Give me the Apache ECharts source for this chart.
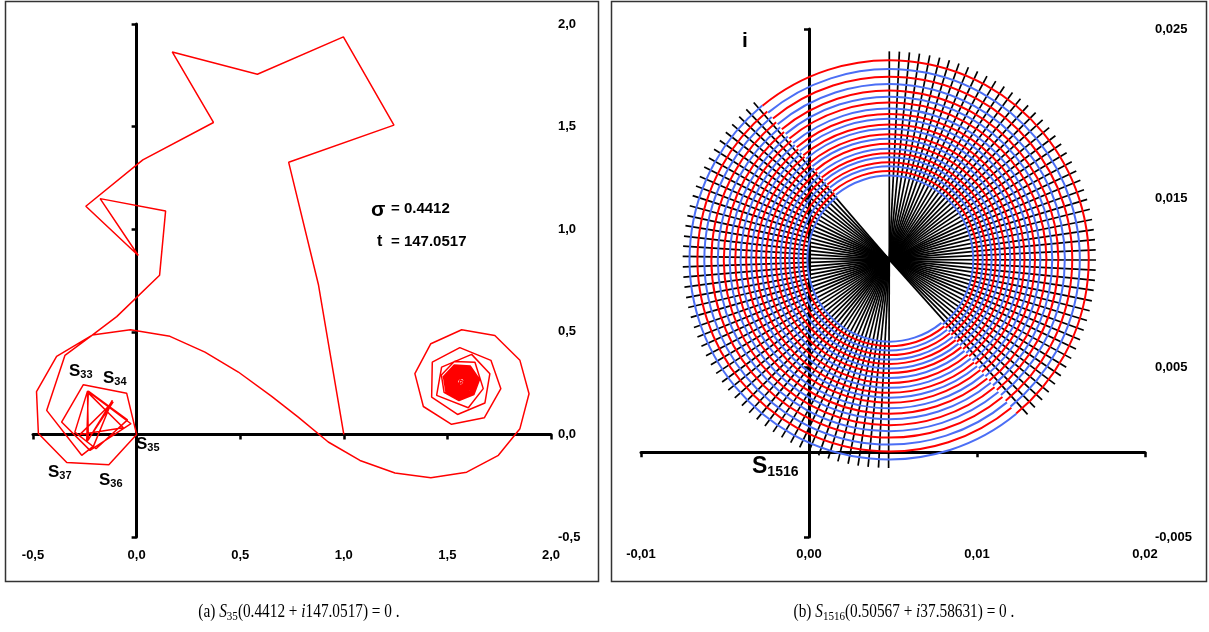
<!DOCTYPE html>
<html><head><meta charset="utf-8">
<script src="https://cdn.jsdelivr.net/npm/echarts@6/dist/echarts.min.js"></script>
<style>html,body{margin:0;padding:0;background:#fff}#c{width:1209px;height:632px}</style>
</head><body><div id="c"></div>
<script>
// ================= DATA : panel (a) =================
const xTickValsA = [-0.5, 0, 0.5, 1, 1.5, 2];
const xTickLabelsA = ['-0,5', '0,0', '0,5', '1,0', '1,5', '2,0'];
const yTickValsA = [-0.5, 0, 0.5, 1, 1.5, 2];
const yTickLabelsA = ['-0,5', '0,0', '0,5', '1,0', '1,5', '2,0'];

const pathUpper = [[1.000,0.000],[0.878,0.728],[0.734,1.326],[1.242,1.507],[0.998,1.937],[0.583,1.755],[0.172,1.864],[0.371,1.520],[0.030,1.338],[-0.245,1.112],[0.008,0.872],[-0.176,1.149],[0.140,1.089],[0.111,0.776],[-0.096,0.574],[-0.214,0.484]];
const pathLowerLeft = [[-0.386,0.380],[-0.483,0.208],[-0.474,0.004],[-0.337,-0.137],[-0.134,-0.148],[0.000,0.000],[-0.048,0.201],[-0.257,0.242],[-0.362,0.060],[-0.225,-0.078],[-0.027,0.052],[-0.237,0.211],[-0.298,0.011],[-0.196,-0.070],[-0.044,0.071],[-0.233,0.211],[-0.241,-0.037],[-0.113,0.159],[-0.273,0.000],[-0.064,0.032],[-0.237,0.206],[-0.233,-0.026],[-0.117,0.166],[-0.208,-0.057],[-0.265,-0.102],[-0.434,0.117],[-0.346,0.385],[-0.214,0.484]];
const pathCurve = [[-0.030,0.510],[0.161,0.478],[0.330,0.401],[0.491,0.304],[0.652,0.185],[0.780,0.084],[0.925,-0.037],[1.078,-0.127],[1.247,-0.188],[1.420,-0.211],[1.593,-0.184],[1.746,-0.102],[1.850,0.028],[1.894,0.198],[1.850,0.361],[1.729,0.482],[1.569,0.510]];
const pathSpiral = [[1.420,0.442],[1.343,0.296],[1.384,0.136],[1.520,0.049],[1.678,0.081],[1.758,0.223],[1.710,0.361],[1.560,0.423],[1.427,0.352],[1.424,0.182],[1.549,0.097],[1.681,0.153],[1.705,0.296],[1.617,0.390],[1.472,0.328],[1.448,0.190],[1.601,0.130],[1.673,0.223],[1.633,0.352],[1.533,0.355],[1.471,0.289],[1.484,0.205],[1.556,0.165],[1.628,0.194]];
const pathCore = [
[1.655,0.268],[1.611,0.333],[1.533,0.338],[1.481,0.282],[1.493,0.207],[1.558,0.169],[1.627,0.197],
[1.648,0.267],[1.607,0.326],[1.536,0.332],[1.488,0.280],[1.498,0.211],[1.558,0.176],[1.622,0.201],
[1.641,0.266],[1.604,0.320],[1.538,0.325],[1.494,0.277],[1.504,0.215],[1.559,0.183],[1.617,0.206],
[1.634,0.265],[1.600,0.314],[1.541,0.319],[1.501,0.275],[1.510,0.218],[1.559,0.190],[1.612,0.211],
[1.627,0.264],[1.597,0.308],[1.543,0.312],[1.508,0.273],[1.516,0.222],[1.560,0.197],[1.606,0.216],
[1.620,0.263],[1.593,0.302],[1.546,0.305],[1.514,0.271],[1.522,0.226],[1.561,0.204],[1.601,0.221],
[1.614,0.262],[1.589,0.296],[1.548,0.299],[1.521,0.269],[1.528,0.230],[1.561,0.211],[1.596,0.225],
[1.607,0.261],[1.586,0.290],[1.551,0.292],[1.528,0.267],[1.533,0.234],[1.562,0.218],[1.591,0.230],
[1.600,0.260],[1.582,0.284],[1.553,0.286],[1.534,0.265],[1.539,0.238],[1.562,0.225],[1.586,0.235],
[1.593,0.259],[1.579,0.278],[1.556,0.279],[1.541,0.263],[1.545,0.242],[1.563,0.232],[1.581,0.240],
[1.586,0.258],[1.575,0.272],[1.558,0.273],[1.548,0.260],[1.551,0.246],[1.564,0.239],[1.576,0.245],
[1.579,0.257],[1.572,0.266],[1.561,0.266],[1.554,0.258],[1.557,0.249],[1.564,0.246],[1.571,0.250],
[1.566,0.255]];
const sigmaText = '= 0.4412';
const tText = '= 147.0517';

// ================= DATA : panel (b) =================
const xTickValsB = [-0.01, 0, 0.01, 0.02];
const xTickLabelsB = ['-0,01', '0,00', '0,01', '0,02'];
const yTickValsB = [-0.005, 0.005, 0.015, 0.025];
const yTickLabelsB = ['-0,005', '0,005', '0,015', '0,025'];
const spiralCenter = [0.00478, 0.01138];
const spokeLength = 0.0123;
const splitAngle = 129.5; // degrees, diameter where half-arcs meet
const rightFanAngles = [90,87.2,84.4,81.6,78.7,75.9,73.1,70.3,67.5,64.7,61.8,59.0,56.2,53.4,50.6,47.8,44.9,42.1,39.3,36.5,33.7,30.9,28.0,25.2,22.4,19.6,16.8,14.0,11.1,8.3,5.5,2.7,-0.1,-2.9,-5.7,-8.5,-11.4,-14.2,-17.0,-19.8,-22.6,-25.4,-28.3,-31.1,-33.9,-36.7,-39.5,-42.3,-45.2,-48.0];
const leftFanAngles = [131,133.8,136.6,139.5,142.3,145.1,148.0,150.8,153.6,156.5,159.3,162.1,165.0,167.8,170.6,173.5,176.3,179.1,182.0,184.8,187.6,190.5,193.3,196.1,199.0,201.8,204.6,207.5,210.3,213.1,216.0,218.8,221.6,224.5,227.3,230.1,233.0,235.8,238.6,241.5,244.3,247.1,250.0,252.8,255.6,258.5,261.3,264.1,267.0,269.8];
const rightArcRadii = [0.01187,0.01134,0.01089,0.01045,0.01006,0.00970,0.00935,0.00899,0.00867,0.00838,0.00805,0.00779,0.00746,0.00720,0.00690,0.00660,0.00633,0.00609,0.00580,0.00556,0.00527,0.00500];
const leftArcRadii = [0.01189,0.01142,0.01101,0.01059,0.01021,0.00985,0.00950,0.00917,0.00885,0.00852,0.00822,0.00793,0.00763,0.00734,0.00704,0.00675,0.00648,0.00621,0.00595,0.00568,0.00541,0.00515,0.00488];

// ================= STYLE =================
const RED = '#ff0000', BLUE = '#4b6ef5', INK = '#000';
const SANS = 'Liberation Sans', SERIF = 'Liberation Serif';

function lab(vals, labels, v) {
  const i = vals.findIndex(t => Math.abs(t - v) < 1e-9);
  return i < 0 ? '' : labels[i];
}
function labelAxis(dim, gridIndex, min, max, interval, vals, labels, margin) {
  return {
    type: 'value', gridIndex, position: dim === 'x' ? 'bottom' : 'right', min, max, interval,
    axisLine: {show: false, onZero: false}, axisTick: {show: false}, splitLine: {show: false},
    axisLabel: {show: true, margin, color: INK, fontFamily: SANS, fontWeight: 'bold', fontSize: 13,
      customValues: vals, formatter: v => lab(vals, labels, v)}
  };
}
function lineAxis(dim, gridIndex, min, max, interval, vals, zeroIdx) {
  return {
    type: 'value', gridIndex, position: dim === 'x' ? 'bottom' : 'left', min, max, interval,
    axisLine: {show: true, onZero: true, onZeroAxisIndex: zeroIdx, lineStyle: {color: INK, width: 3}},
    axisTick: {show: true, length: 5, customValues: vals, lineStyle: {color: INK, width: 2.5}},
    axisLabel: {show: false}, splitLine: {show: false}
  };
}

const pathA = [].concat(pathUpper, pathLowerLeft, pathCurve, pathSpiral, pathCore);
const spokeData = rightFanAngles.concat(leftFanAngles).map(a => [spiralCenter[0], spiralCenter[1], a, spokeLength]);
const arcData = rightArcRadii.map((r, i) => [spiralCenter[0], spiralCenter[1], r, 0, i % 2])
  .concat(leftArcRadii.map((r, i) => [spiralCenter[0], spiralCenter[1], r, 1, (i + 1) % 2]));

function spokeItem(params, api) {
  const cx = api.value(0), cy = api.value(1), a = api.value(2) * Math.PI / 180, L = api.value(3);
  const p0 = api.coord([cx, cy]);
  const p1 = api.coord([cx + L * Math.cos(a), cy + L * Math.sin(a)]);
  return {type: 'line', shape: {x1: p0[0], y1: p0[1], x2: p1[0], y2: p1[1]},
    style: {stroke: INK, lineWidth: 1.7, fill: 'none'}};
}
function arcItem(params, api) {
  const c = api.coord([api.value(0), api.value(1)]);
  const r = api.size([api.value(2), 0])[0];
  const side = api.value(3), col = api.value(4);
  const s = splitAngle * Math.PI / 180;
  const start = side === 0 ? -s : Math.PI - s;
  const end = start + Math.PI;
  return {type: 'arc', shape: {cx: c[0], cy: c[1], r, startAngle: start, endAngle: end, clockwise: true},
    style: {stroke: col === 0 ? RED : BLUE, lineWidth: 2, fill: 'none'}};
}

function richLabel(x, y, main, sub, big, small) {
  return {type: 'text', x, y, z: 10, style: {
    text: '{a|' + main + '}{b|' + sub + '}', textVerticalAlign: 'middle', textAlign: 'left',
    rich: {a: {fontFamily: SANS, fontWeight: 'bold', fontSize: big, lineHeight: big + 2, fill: INK},
           b: {fontFamily: SANS, fontWeight: 'bold', fontSize: small, lineHeight: small + 1, fill: INK, verticalAlign: 'bottom'}}
  }};
}
function caption(x, y, pre, sub, arg1, arg2) {
  const n = {fontFamily: SERIF, fontSize: 18, lineHeight: 22, fill: INK};
  return {type: 'text', x, y, scaleX: 0.85, style: {
    text: '{n|' + pre + '}{it|S}{sub|' + sub + '}{n|' + arg1 + '}{it|i}{n|' + arg2 + '}',
    textAlign: 'center', textVerticalAlign: 'middle',
    rich: {n: n, it: Object.assign({}, n, {fontStyle: 'italic'}),
           sub: {fontFamily: SERIF, fontSize: 13, lineHeight: 13, fill: INK, verticalAlign: 'bottom'}}
  }};
}

const chart = echarts.init(document.getElementById('c'), null, {renderer: 'canvas'});
chart.setOption({
  animation: false,
  backgroundColor: '#fff',
  textStyle: {fontFamily: SANS},
  grid: [
    {left: 33, top: 24, width: 518, height: 513, outerBoundsMode: 'none'},
    {left: 641, top: 29, width: 504, height: 508, outerBoundsMode: 'none'}
  ],
  xAxis: [
    labelAxis('x', 0, -0.5, 2, 0.5, xTickValsA, xTickLabelsA, 12),
    lineAxis('x', 0, -0.5, 2, 0.5, xTickValsA, 1),
    labelAxis('x', 1, -0.01, 0.02, 0.01, xTickValsB, xTickLabelsB, 11),
    lineAxis('x', 1, -0.01, 0.02, 0.01, xTickValsB, 3)
  ],
  yAxis: [
    labelAxis('y', 0, -0.5, 2, 0.5, yTickValsA, yTickLabelsA, 7),
    lineAxis('y', 0, -0.5, 2, 0.5, yTickValsA, 1),
    labelAxis('y', 1, -0.005, 0.025, 0.005, yTickValsB, yTickLabelsB, 10),
    lineAxis('y', 1, -0.005, 0.025, 0.005, yTickValsB, 3)
  ],
  series: [
    {type: 'line', xAxisIndex: 1, yAxisIndex: 1, data: pathA, showSymbol: false, symbol: 'none',
      lineStyle: {color: RED, width: 1.5}, z: 3},
    {type: 'custom', xAxisIndex: 3, yAxisIndex: 3, data: spokeData, renderItem: spokeItem,
      encode: {x: 0, y: 1}, z: 2, clip: false},
    {type: 'custom', xAxisIndex: 3, yAxisIndex: 3, data: arcData, renderItem: arcItem,
      encode: {x: 0, y: 1}, z: 3, clip: false}
  ],
  graphic: [
    {type: 'rect', shape: {x: 5.5, y: 1.5, width: 593, height: 580}, style: {fill: 'none', stroke: '#333', lineWidth: 1.5}},
    {type: 'rect', shape: {x: 611.5, y: 1.5, width: 595, height: 580}, style: {fill: 'none', stroke: '#333', lineWidth: 1.5}},
    {type: 'text', x: 371, y: 210, style: {text: 'σ', fontFamily: SANS, fontWeight: 'bold', fontSize: 21, fill: INK, textVerticalAlign: 'middle'}},
    {type: 'text', x: 391, y: 209, style: {text: sigmaText, fontFamily: SANS, fontWeight: 'bold', fontSize: 15, fill: INK, textVerticalAlign: 'middle'}},
    {type: 'text', x: 377, y: 242, style: {text: 't', fontFamily: SANS, fontWeight: 'bold', fontSize: 16, fill: INK, textVerticalAlign: 'middle'}},
    {type: 'text', x: 391, y: 242, style: {text: tText, fontFamily: SANS, fontWeight: 'bold', fontSize: 15, fill: INK, textVerticalAlign: 'middle'}},
    richLabel(69, 371, 'S', '33', 17, 11),
    richLabel(103, 378, 'S', '34', 17, 11),
    richLabel(136, 444, 'S', '35', 17, 11),
    richLabel(48, 472, 'S', '37', 17, 11),
    richLabel(99, 480, 'S', '36', 17, 11),
    {type: 'text', x: 742, y: 41, style: {text: 'i', fontFamily: SANS, fontWeight: 'bold', fontSize: 21, fill: INK, textVerticalAlign: 'middle'}},
    richLabel(752, 467, 'S', '1516', 23, 14),
    caption(299, 612, '(a) ', '35', '(0.4412 + ', '147.0517) = 0 .'),
    caption(904, 612, '(b) ', '1516', '(0.50567 + ', '37.58631) = 0 .')
  ]
});
</script></body></html>
